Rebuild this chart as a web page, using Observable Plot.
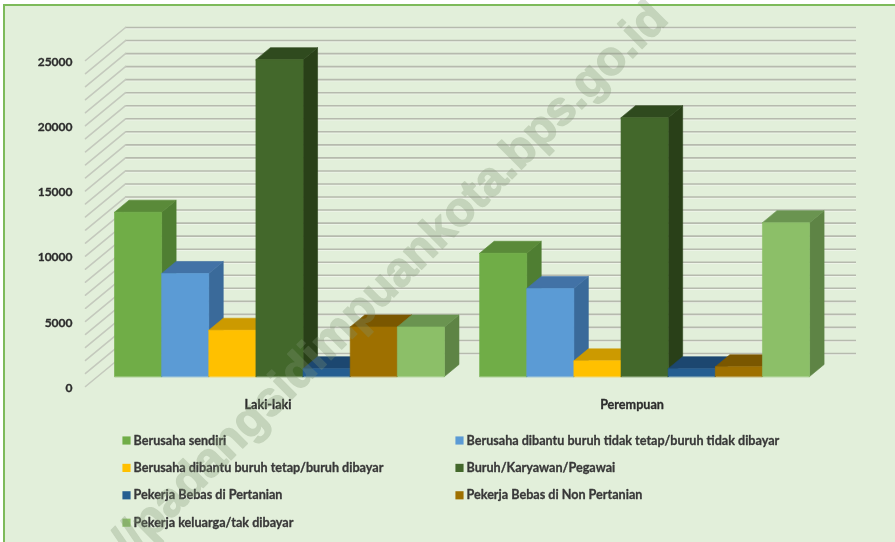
<!DOCTYPE html>
<html>
<head>
<meta charset="utf-8">
<script src="https://cdn.jsdelivr.net/npm/d3@7"></script>
<script src="https://cdn.jsdelivr.net/npm/@observablehq/plot@0.6"></script>
<style>
html,body{margin:0;padding:0;background:#fff}
#wrap{position:relative;width:895px;height:542px;overflow:hidden}
#panel{position:absolute;left:3px;top:4px;right:0;bottom:0;background:#e2efda;border-left:2px solid #7dba5a;border-top:2px solid #7dba5a}
#chart{position:absolute;left:0;top:0}
#chart svg{display:block;background:transparent;filter:blur(0.45px)}
</style>
</head>
<body>
<div id="wrap"><div id="panel"></div><div id="chart"></div></div>
<script>
const categories = ["Laki-laki", "Perempuan"];
const series = [
  "Berusaha sendiri",
  "Berusaha dibantu buruh tidak tetap/buruh tidak dibayar",
  "Berusaha dibantu buruh tetap/buruh dibayar",
  "Buruh/Karyawan/Pegawai",
  "Pekerja Bebas di Pertanian",
  "Pekerja Bebas di Non Pertanian",
  "Pekerja keluarga/tak dibayar"
];
const lakiLaki  = [12600, 7900, 3550, 24300, 600, 3800, 3800];
const perempuan = [9450, 6750, 1200, 19850, 600, 750, 11800];
const values = [lakiLaki, perempuan];
const frontColors = ["#70ad47", "#5b9bd5", "#ffc000", "#43682b", "#255e91", "#9e7000", "#8cbf68"];
const topColors   = ["#5a8a39", "#4272a6", "#cc9a00", "#2f4a1e", "#1c4770", "#7a5700", "#6a9450"];
const sideColors  = ["#4f7e32", "#3a6a9a", "#b08600", "#294018", "#1a4168", "#6d4e00", "#5e8445"];
const axisTicks = [0, 5000, 10000, 15000, 20000, 25000];
const gridTicks = d3.range(0, 26000, 1000);
const legendRows = [0, 0, 1, 1, 2, 2, 3];
const legendCols = [0, 1, 0, 1, 0, 1, 0];

// scale geometry of the oblique drawing
const W = 895, H = 542;
const barPx = 47.14, groupStep = 7.745, originX = 114;
const zeroY = 376, pxPerValue = 0.01304;
const X = px => (px - originX) / barPx;       // pixel -> bar units
const V = py => (zeroY - py) / pxPerValue;    // pixel -> value units
const barDx = 14.5 / barPx, barDv = 12 / pxPerValue;
const wallBackDv = 23 / pxPerValue, wallFrontDv = -10 / pxPerValue;
const wallBackX = X(125), wallFrontX = X(85), wallEndX = X(856);

// every bar face as a closed polygon, painted from left to right
const faces = [];
values.forEach((vals, g) => vals.forEach((v, i) => {
  const x0 = g * groupStep + i, x1 = x0 + 1;
  const add = (face, color, pts) => pts.forEach(([x, y]) => faces.push({id: `${g}-${i}-${face}`, color, x, y}));
  add("side", sideColors[i], [[x1, 0], [x1 + barDx, barDv], [x1 + barDx, v + barDv], [x1, v]]);
  add("top", topColors[i], [[x0, v], [x0 + barDx, v + barDv], [x1 + barDx, v + barDv], [x1, v]]);
  add("front", frontColors[i], [[x0, 0], [x0, v], [x1, v], [x1, 0]]);
}));

const slant = gridTicks.flatMap(v => [
  {id: v, x: wallFrontX, y: v + wallFrontDv},
  {id: v, x: wallBackX, y: v + wallBackDv}
]);

const legendData = series.map((name, i) => ({
  name, color: frontColors[i],
  x: X(legendCols[i] ? 459 : 126),
  tx: X(legendCols[i] ? 466 : 133),
  y: V(440 + legendRows[i] * 27.4)
}));

const font = "Lato, Carlito, sans-serif";
const plot = Plot.plot({
  width: W, height: H, margin: 0,
  style: {background: "transparent", fontFamily: font},
  x: {domain: [X(0), X(W)], range: [0, W], axis: null},
  y: {domain: [V(0), V(H)], range: [0, H], axis: null},
  marks: [
    Plot.ruleY(gridTicks, {y: d => d + wallBackDv, x1: wallBackX, x2: wallEndX, dy: 1.2, stroke: "#f1f5ec", strokeWidth: 0.9}),
    Plot.ruleY(gridTicks, {y: d => d + wallBackDv, x1: wallBackX, x2: wallEndX, stroke: "#b6baae", strokeWidth: 1.6}),
    Plot.line(slant, {x: "x", y: "y", z: "id", stroke: "#c4c9bd", strokeWidth: 1.6}),
    Plot.line(faces, {x: "x", y: "y", z: "id", fill: "color", stroke: "color", strokeWidth: 0.6, curve: "linear-closed"}),
    Plot.text(axisTicks, {x: X(72), y: d => d, dy: 11.5, text: d => String(d), textAnchor: "end", fontSize: 12, fontWeight: 700, fill: "#2c2c2c", stroke: "#2c2c2c", strokeWidth: 0.3}),
    Plot.text(categories, {
      x: (d, g) => X(267.5 + g * 364),
      y: V(404),
      text: d => d, textAnchor: "middle", fontSize: 12.6, fontWeight: 700, fill: "#2c2c2c", stroke: "#2c2c2c", strokeWidth: 0.3
    }),
    Plot.dot(legendData, {x: "x", y: "y", symbol: "square", r: 4.6, fill: "color", stroke: "none"}),
    Plot.text(legendData, {x: "tx", y: "y", text: "name", textAnchor: "start", fontSize: 12.6, fontWeight: 700, fill: "#383838", stroke: "#383838", strokeWidth: 0.3}),
    Plot.text(["//padangsidimpuankota.bps.go.id"], {
      x: X(389), y: V(279), text: d => d, textAnchor: "middle", rotate: -45,
      fontSize: 48, fontWeight: 700, fontFamily: "Liberation Sans", fill: "#7f9473", stroke: "#7f9473", strokeWidth: 1.4, opacity: 0.3
    })
  ]
});
document.getElementById("chart").appendChild(plot);
</script>
</body>
</html>
